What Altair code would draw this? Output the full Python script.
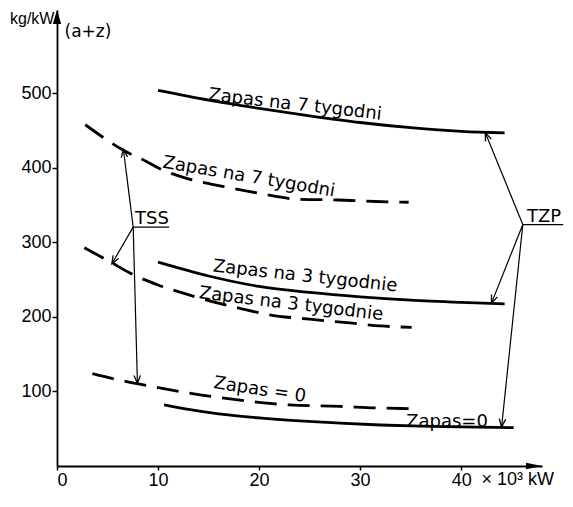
import math
import altair as alt
import pandas as pd

# ---------------- data ----------------
x_ticks = [0, 10, 20, 30, 40]
y_ticks = [100, 200, 300, 400, 500]
X_MAX = 48
Y_MAX = 612

# solid curves (TZP)
s7_x = [10, 15, 20, 25, 30, 35, 40, 44.3]
s7_y = [504, 491, 480, 470, 461, 454, 449, 447]
s3_x = [10, 15, 20, 25, 30, 35, 40, 44.3]
s3_y = [273.5, 255, 241, 233, 227, 222.5, 219.5, 217.5]
s0_x = [10.6, 13, 16, 20, 24, 28, 32, 36, 40, 45.2]
s0_y = [82, 76, 70, 64.5, 60.5, 57.5, 55, 53.5, 52.5, 51.5]

# dashed curves (TSS)
d7_x = [2.8, 4.9, 6.4, 8.8, 10.5, 12.6, 16.5, 20.0, 23.9, 27.8, 31.5, 34.8]
d7_y = [458, 438, 425, 409, 397, 387, 375, 366, 358, 357, 355, 354]
d3_x = [2.7, 5, 7.5, 10, 12.5, 15, 18, 21, 25, 29, 32, 35.1]
d3_y = [293, 276, 257, 243, 232, 222, 212, 203, 197, 192, 188, 186]
d0_x = [3.5, 6.3, 9.7, 13, 16, 19, 23, 28, 31.5, 34.8]
d0_y = [124, 115, 106, 98, 92, 87, 82, 80, 78, 77]

# curve labels
lbl_text = ["Zapas na 7 tygodni", "Zapas na 7 tygodni", "Zapas na 3 tygodnie",
            "Zapas na 3 tygodnie", "Zapas = 0", "Zapas=0"]
lbl_x = [23.5, 18.9, 24.5, 23.1, 20.0, 38.6]
lbl_y = [478, 381, 247.6, 210.4, 95.3, 52.8]

# pointer labels and their arrows
tss_x, tss_y = 7.54, 320.6
tss_tip_x = [6.57, 5.43, 7.96]
tss_tip_y = [425, 271.4, 110.8]
tss_line_end = 11.1
tzp_x, tzp_y = 46.1, 324
tzp_tip_x = [42.4, 43.0, 44.0]
tzp_tip_y = [447, 218.6, 52.4]
tzp_line_end = 50.1

# ---------------- style ----------------
W, H = 485, 456
lbl_angle = [6.5, 9.6, 6.2, 6.75, 8.5, 0]
PX_X = W / X_MAX
PX_Y = H / Y_MAX

xs = alt.Scale(domain=[0, X_MAX], nice=False, zero=False)
ys = alt.Scale(domain=[0, Y_MAX], nice=False, zero=False)

x_axis = alt.Axis(values=x_ticks, title=None, grid=False, domainColor="black",
                  domainWidth=1.8, tickColor="black", tickWidth=1.5, tickSize=4,
                  labelFont="Liberation Sans", labelFontSize=18, labelColor="black",
                  labelPadding=1, labelFlush=True)
y_axis = alt.Axis(values=y_ticks, title=None, grid=False, domainColor="black",
                  domainWidth=1.8, tickColor="black", tickWidth=1.5, tickSize=5,
                  labelFont="Liberation Sans", labelFontSize=18, labelColor="black",
                  labelPadding=1)


def X(f):
    return alt.X(f, type="quantitative", scale=xs, axis=x_axis)


def Y(f):
    return alt.Y(f, type="quantitative", scale=ys, axis=y_axis)


rows = []
for name, style, cx, cy in [("s7", "solid", s7_x, s7_y), ("s3", "solid", s3_x, s3_y),
                            ("s0", "solid", s0_x, s0_y), ("d7", "dashed", d7_x, d7_y),
                            ("d3", "dashed", d3_x, d3_y), ("d0", "dashed", d0_x, d0_y)]:
    for a, b in zip(cx, cy):
        rows.append({"series": name, "style": style, "x": a, "y": b})
curves = pd.DataFrame(rows)

solid = alt.Chart(curves[curves["style"] == "solid"]).mark_line(
    color="black", strokeWidth=2.8, interpolate="monotone"
).encode(x=X("x"), y=Y("y"), detail="series:N")

dashed = alt.Chart(curves[curves["style"] == "dashed"]).mark_line(
    color="black", strokeWidth=2.8, interpolate="monotone", strokeDash=[22, 11]
).encode(x=X("x"), y=Y("y"), detail="series:N")

labels = pd.DataFrame({"t": lbl_text, "x": lbl_x, "y": lbl_y, "ang": lbl_angle})
label_marks = alt.Chart(labels).mark_text(
    font="DejaVu Sans", fontSize=18, align="center", baseline="alphabetic", color="black"
).encode(x=X("x"), y=Y("y"), text="t:N", angle=alt.Angle("ang:Q", scale=None))


def ang(x0, y0, x1, y1):
    dx = (x1 - x0) * PX_X
    dy = -(y1 - y0) * PX_Y
    return math.degrees(math.atan2(dx, -dy)) % 360


arr_rows = []
for jx, jy, tx, ty in [(tss_x, tss_y, tss_tip_x, tss_tip_y), (tzp_x, tzp_y, tzp_tip_x, tzp_tip_y)]:
    for a, b in zip(tx, ty):
        arr_rows.append({"x": jx, "y": jy, "x2": a, "y2": b, "ang": ang(jx, jy, a, b)})
arrows = pd.DataFrame(arr_rows)

arrow_lines = alt.Chart(arrows).mark_rule(color="black", strokeWidth=1.2).encode(
    x=X("x"), y=Y("y"), x2="x2:Q", y2="y2:Q")
arrow_heads = alt.Chart(arrows).mark_point(
    shape="M-0.4,1L0,0L0.4,1", size=256, filled=False, color="black", strokeWidth=1.3, opacity=1
).encode(x=X("x2"), y=Y("y2"), angle=alt.Angle("ang:Q", scale=None))

unders = pd.DataFrame({"x": [tss_x, tzp_x], "x2": [tss_line_end, tzp_line_end],
                       "y": [tss_y, tzp_y]})
underlines = alt.Chart(unders).mark_rule(color="black", strokeWidth=1.4).encode(
    x=X("x"), x2="x2:Q", y=Y("y"))

ptr = pd.DataFrame({"t": ["TSS", "TZP"], "x": [9.39, 48.2], "y": [324.5, 327]})
ptr_text = alt.Chart(ptr).mark_text(
    font="DejaVu Sans", fontSize=18, align="center", baseline="alphabetic", color="black"
).encode(x=X("x"), y=Y("y"), text="t:N")

# axis arrowheads
xa = pd.DataFrame({"x": [X_MAX], "y": [0]})
x_arrow = alt.Chart(xa).mark_point(
    shape="M0,0L-1,-0.2L-1,0.2Z", size=1024, filled=True, color="black", opacity=1
).encode(x=X("x"), y=Y("y"))
ya = pd.DataFrame({"x": [0], "y": [Y_MAX]})
y_arrow = alt.Chart(ya).mark_point(
    shape="M0,0L-0.3,1L0.3,1Z", size=784, filled=True, color="black", opacity=1
).encode(x=X("x"), y=Y("y"))

# axis captions
cap = pd.DataFrame({"t": ["kg/kW"], "x": [-0.25], "y": [593]})
cap_text = alt.Chart(cap).mark_text(
    font="Liberation Sans", fontSize=16, align="right", baseline="alphabetic", color="black"
).encode(x=X("x"), y=Y("y"), text="t:N")
az = pd.DataFrame({"t": ["(a+z)"], "x": [3.06], "y": [576]})
az_text = alt.Chart(az).mark_text(
    font="DejaVu Sans", fontSize=17, align="center", baseline="alphabetic", color="black"
).encode(x=X("x"), y=Y("y"), text="t:N")
unit = pd.DataFrame({"t": ["× 10³ kW"], "x": [42.0], "y": [0]})
unit_text = alt.Chart(unit).mark_text(
    font="Liberation Sans", fontSize=18, align="left", baseline="top", dy=5, color="black"
).encode(x=X("x"), y=Y("y"), text="t:N")

chart = alt.layer(
    solid, dashed, label_marks, arrow_lines, arrow_heads, underlines, ptr_text,
    x_arrow, y_arrow, cap_text, az_text, unit_text
).properties(
    width=W, height=H,
    autosize=alt.AutoSizeParams(type="none"),
    padding={"left": 49, "top": 2, "right": 23, "bottom": 28},
    background="white",
).configure_view(stroke=None)

chart.save("out.html", embed_options={"renderer": "svg", "actions": False})
